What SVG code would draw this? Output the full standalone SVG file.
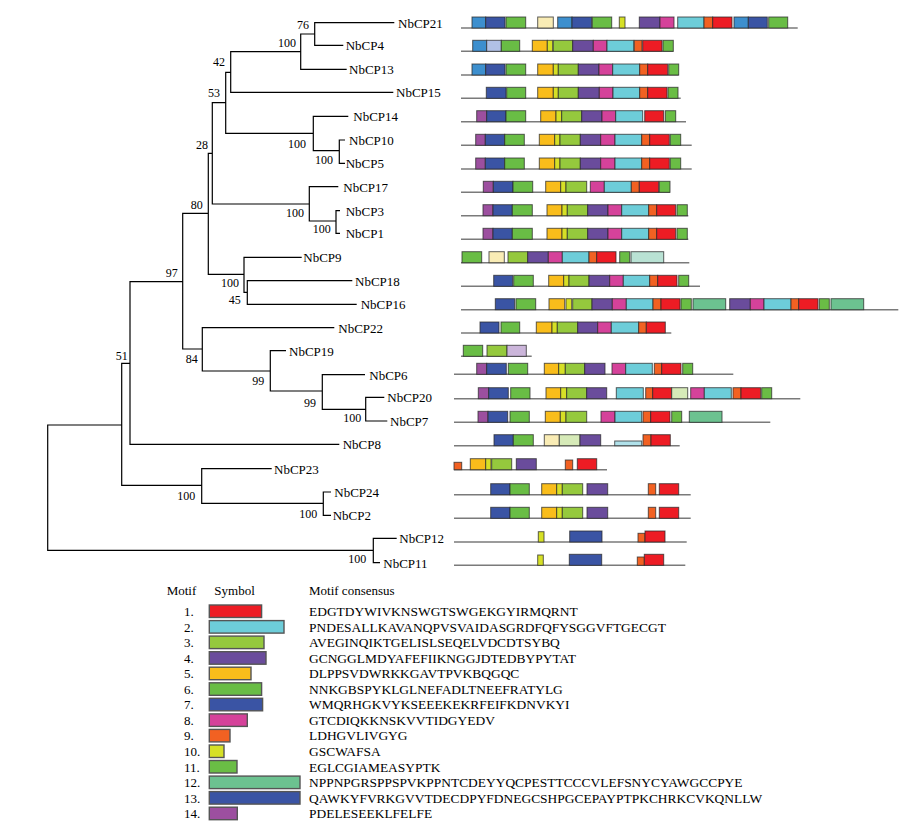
<svg xmlns="http://www.w3.org/2000/svg" width="910" height="836" viewBox="0 0 910 836">
<style>
text{font-family:"Liberation Serif","Times New Roman",serif;fill:#000}
.lab{font-size:13px}
.bs{font-size:12px}
.lg{font-size:13px}
.seq{font-size:13.45px}
.tree path{fill:none;stroke:#000;stroke-width:1.2}
.bb{stroke:#7a7a7a;stroke-width:1.6}
.r rect{stroke:rgba(40,40,40,0.75);stroke-width:1}
.sym rect{stroke:#555;stroke-width:1.4}
.m1{fill:#ed1c24}.m2{fill:#6dcdd9}.m3{fill:#95c93d}.m4{fill:#6a4c9c}.m5{fill:#f9bd1b}
.m6{fill:#69bd45}.m7{fill:#3a54a4}.m8{fill:#d5429a}.m9{fill:#f26122}.m10{fill:#d6e026}
.m11{fill:#6abd45}.m12{fill:#6cc290}.m13{fill:#3a54a4}.m14{fill:#9c4f9f}
.lb{fill:#3d8fce}.py{fill:#f9ecb5}.ls{fill:#b1c1e5}.pm{fill:#b9e2d4}.pg{fill:#d6eab8}.lv{fill:#cbb5da}.pc{fill:#b0e1ea}
</style>

<g id="connectors" class="tree">
<path d="M394.3,22.7H314.7V45.3H343.3 M314.7,34H300.7V69.3H346.7 M300.7,51.7H230.7V92.3H393.3 M230.7,72.3H225.7V133.3H313.3 M348.3,116.3H313.3V150.7H339.3 M345,140H339.3V163.3H345 M225.7,102.7H212.3V204H309.3 M338.3,186.7H309.3V221H336 M340,210.7H336V233.3H340 M212.3,153.3H208.3V274.3H244 M301.7,257.3H244V292.3H247.3 M352.3,280.7H247.3V304.3H356.7 M208.3,213.3H182.7V349H202.3 M334.3,327.7H202.3V371H270.3 M286,350.7H270.3V391H322.3 M365,374.7H322.3V409.3H365.7 M384.3,397.3H365.7V421H387.3 M182.7,281.7H130V444.3H339.3 M130,363.3H121.7V485.3H201.7 M271.7,468.7H201.7V503.3H323.3 M331,492H323.3V515.3H331 M121.7,425H47.7V550.3H373.3 M396.7,538.3H373.3V562.7H380"/>
</g>

<g id="bootstrap" class="bs">
<text x="297" y="29">76</text>
<text x="278" y="46.7">100</text>
<text x="213" y="65.7">42</text>
<text x="208" y="97.3">53</text>
<text x="288" y="148">100</text>
<text x="315" y="164">100</text>
<text x="196" y="149">28</text>
<text x="286" y="216.7">100</text>
<text x="312.7" y="233.3">100</text>
<text x="190.7" y="209">80</text>
<text x="221" y="287.3">100</text>
<text x="228.7" y="304">45</text>
<text x="165.7" y="276.7">97</text>
<text x="185.7" y="363.3">84</text>
<text x="252.3" y="385">99</text>
<text x="304" y="406.7">99</text>
<text x="343.3" y="421.7">100</text>
<text x="115.7" y="360">51</text>
<text x="177.3" y="500">100</text>
<text x="299.3" y="518.3">100</text>
<text x="348.3" y="563.3">100</text>
</g>

<g id="NbCP21"><text class="lab" x="398" y="27.5">NbCP21</text>
<g class="r" transform="translate(0,17)"><line class="bb" x1="461" y1="11" x2="797.7" y2="11"/>
<rect class="lb" x="472" y="0" width="13.7" height="11"/><rect class="m7" x="485.7" y="0" width="19.3" height="11"/><rect class="m6" x="506" y="0" width="19.7" height="11"/><rect class="py" x="537.7" y="0" width="15.6" height="11"/><rect class="lb" x="557.7" y="0" width="14.3" height="11"/><rect class="m7" x="572" y="0" width="19.7" height="11"/><rect class="m6" x="592.3" y="0" width="19.4" height="11"/><rect class="m10" x="619.3" y="0" width="5.7" height="11"/><rect class="m4" x="639.3" y="0" width="20.7" height="11"/><rect class="m8" x="660" y="0" width="14" height="11"/><rect class="m2" x="677.7" y="0" width="26.3" height="11"/><rect class="m9" x="704" y="0" width="8.7" height="11"/><rect class="m1" x="712.7" y="0" width="19.3" height="11"/><rect class="lb" x="734" y="0" width="14.3" height="11"/><rect class="m7" x="748.3" y="0" width="19" height="11"/><rect class="m6" x="768.7" y="0" width="19" height="11"/></g></g>

<g id="NbCP4"><text class="lab" x="345.7" y="50">NbCP4</text>
<g class="r" transform="translate(0,40.3)"><line class="bb" x1="461" y1="11" x2="673.3" y2="11"/>
<rect class="lb" x="472.7" y="0" width="14" height="11"/><rect class="ls" x="486.7" y="0" width="14.6" height="11"/><rect class="m6" x="501.3" y="0" width="18.4" height="11"/><rect class="m5" x="532.3" y="0" width="15" height="11"/><rect class="m10" x="547.3" y="0" width="5.4" height="11"/><rect class="m3" x="553.3" y="0" width="19.4" height="11"/><rect class="m4" x="572.7" y="0" width="20.6" height="11"/><rect class="m8" x="593.3" y="0" width="13.7" height="11"/><rect class="m2" x="607" y="0" width="26.7" height="11"/><rect class="m9" x="634.3" y="0" width="7.7" height="11"/><rect class="m1" x="642.7" y="0" width="19.3" height="11"/><rect class="m11" x="663" y="0" width="10.3" height="11"/></g></g>

<g id="NbCP13"><text class="lab" x="349" y="74">NbCP13</text>
<g class="r" transform="translate(0,64)"><line class="bb" x1="461" y1="11" x2="678.7" y2="11"/>
<rect class="lb" x="472" y="0" width="13.7" height="11"/><rect class="m7" x="485.7" y="0" width="19.3" height="11"/><rect class="m6" x="506" y="0" width="19.7" height="11"/><rect class="m5" x="537.7" y="0" width="15.6" height="11"/><rect class="m10" x="553.3" y="0" width="5" height="11"/><rect class="m3" x="558.3" y="0" width="20" height="11"/><rect class="m4" x="578.3" y="0" width="20.7" height="11"/><rect class="m8" x="599" y="0" width="13.7" height="11"/><rect class="m2" x="612.7" y="0" width="27" height="11"/><rect class="m9" x="639.7" y="0" width="8" height="11"/><rect class="m1" x="647.7" y="0" width="20" height="11"/><rect class="m11" x="668.7" y="0" width="10" height="11"/></g></g>

<g id="NbCP15"><text class="lab" x="396" y="97">NbCP15</text>
<g class="r" transform="translate(0,87.3)"><line class="bb" x1="461" y1="11" x2="680.7" y2="11"/>
<rect class="m7" x="486.3" y="0" width="19.7" height="11"/><rect class="m6" x="506.7" y="0" width="19" height="11"/><rect class="m5" x="537.7" y="0" width="15.6" height="11"/><rect class="m10" x="553.3" y="0" width="5" height="11"/><rect class="m3" x="558.3" y="0" width="20" height="11"/><rect class="m4" x="578.3" y="0" width="21" height="11"/><rect class="m8" x="599.3" y="0" width="13.7" height="11"/><rect class="m2" x="613" y="0" width="26.7" height="11"/><rect class="m9" x="639.7" y="0" width="8" height="11"/><rect class="m1" x="647.7" y="0" width="19.3" height="11"/><rect class="m11" x="668" y="0" width="10" height="11"/></g></g>

<g id="NbCP14"><text class="lab" x="353.3" y="121">NbCP14</text>
<g class="r" transform="translate(0,110.7)"><line class="bb" x1="461" y1="11" x2="686" y2="11"/>
<rect class="m14" x="476.7" y="0" width="10" height="11"/><rect class="m7" x="486.7" y="0" width="19.3" height="11"/><rect class="m6" x="506" y="0" width="19.7" height="11"/><rect class="m5" x="540.7" y="0" width="15.3" height="11"/><rect class="m10" x="556" y="0" width="5.7" height="11"/><rect class="m3" x="561.7" y="0" width="20" height="11"/><rect class="m4" x="581.7" y="0" width="20.3" height="11"/><rect class="m8" x="602" y="0" width="13.7" height="11"/><rect class="m2" x="615.7" y="0" width="27" height="11"/><rect class="m1" x="644.7" y="0" width="19" height="11"/><rect class="m11" x="665.3" y="0" width="10.4" height="11"/></g></g>

<g id="NbCP10"><text class="lab" x="349" y="145">NbCP10</text>
<g class="r" transform="translate(0,134.3)"><line class="bb" x1="461" y1="11" x2="691.7" y2="11"/>
<rect class="m14" x="475.7" y="0" width="9.6" height="11"/><rect class="m7" x="485.3" y="0" width="19.4" height="11"/><rect class="m6" x="504.7" y="0" width="19.6" height="11"/><rect class="m5" x="539.3" y="0" width="15.4" height="11"/><rect class="m10" x="554.7" y="0" width="5.3" height="11"/><rect class="m3" x="560" y="0" width="20.3" height="11"/><rect class="m4" x="580.3" y="0" width="20.4" height="11"/><rect class="m8" x="600.7" y="0" width="14.3" height="11"/><rect class="m2" x="615" y="0" width="26.7" height="11"/><rect class="m9" x="641.7" y="0" width="8" height="11"/><rect class="m1" x="649.7" y="0" width="19.6" height="11"/><rect class="m11" x="670.3" y="0" width="10.4" height="11"/></g></g>

<g id="NbCP5"><text class="lab" x="345.7" y="168">NbCP5</text>
<g class="r" transform="translate(0,158)"><line class="bb" x1="461" y1="11" x2="691.7" y2="11"/>
<rect class="m14" x="475.7" y="0" width="9.6" height="11"/><rect class="m7" x="485.3" y="0" width="19.4" height="11"/><rect class="m6" x="504.7" y="0" width="19.6" height="11"/><rect class="m5" x="539.3" y="0" width="15.4" height="11"/><rect class="m10" x="554.7" y="0" width="5.3" height="11"/><rect class="m3" x="560" y="0" width="20.3" height="11"/><rect class="m4" x="580.3" y="0" width="20.4" height="11"/><rect class="m8" x="600.7" y="0" width="14.3" height="11"/><rect class="m2" x="615" y="0" width="26.7" height="11"/><rect class="m9" x="641.7" y="0" width="8" height="11"/><rect class="m1" x="649.7" y="0" width="19.6" height="11"/><rect class="m11" x="670.3" y="0" width="10.4" height="11"/></g></g>

<g id="NbCP17"><text class="lab" x="343.3" y="191.5">NbCP17</text>
<g class="r" transform="translate(0,181.3)"><line class="bb" x1="461" y1="11" x2="670" y2="11"/>
<rect class="m14" x="483.3" y="0" width="10" height="11"/><rect class="m7" x="493.3" y="0" width="19.7" height="11"/><rect class="m6" x="513" y="0" width="19.7" height="11"/><rect class="m5" x="545.7" y="0" width="15" height="11"/><rect class="m10" x="560.7" y="0" width="5.3" height="11"/><rect class="m3" x="566" y="0" width="20.7" height="11"/><rect class="m8" x="590.3" y="0" width="14" height="11"/><rect class="m2" x="604.3" y="0" width="27" height="11"/><rect class="m9" x="631.3" y="0" width="8" height="11"/><rect class="m1" x="639.3" y="0" width="19.4" height="11"/><rect class="m11" x="659.3" y="0" width="10.7" height="11"/></g></g>

<g id="NbCP3"><text class="lab" x="345.7" y="215.5">NbCP3</text>
<g class="r" transform="translate(0,204.7)"><line class="bb" x1="461" y1="11" x2="688.3" y2="11"/>
<rect class="m14" x="483" y="0" width="10" height="11"/><rect class="m7" x="493" y="0" width="19.3" height="11"/><rect class="m6" x="512.3" y="0" width="20" height="11"/><rect class="m5" x="547" y="0" width="15" height="11"/><rect class="m10" x="562" y="0" width="5.3" height="11"/><rect class="m3" x="567.3" y="0" width="20.4" height="11"/><rect class="m4" x="587.7" y="0" width="20.3" height="11"/><rect class="m8" x="608" y="0" width="13.7" height="11"/><rect class="m2" x="621.7" y="0" width="27" height="11"/><rect class="m9" x="648.7" y="0" width="8" height="11"/><rect class="m1" x="656.7" y="0" width="19" height="11"/><rect class="m11" x="677" y="0" width="10.3" height="11"/></g></g>

<g id="NbCP1"><text class="lab" x="345.7" y="238">NbCP1</text>
<g class="r" transform="translate(0,228.3)"><line class="bb" x1="461" y1="11" x2="688.3" y2="11"/>
<rect class="m14" x="483" y="0" width="10" height="11"/><rect class="m7" x="493" y="0" width="19.3" height="11"/><rect class="m6" x="512.3" y="0" width="20" height="11"/><rect class="m5" x="547" y="0" width="15" height="11"/><rect class="m10" x="562" y="0" width="5.3" height="11"/><rect class="m3" x="567.3" y="0" width="20.4" height="11"/><rect class="m4" x="587.7" y="0" width="20.3" height="11"/><rect class="m8" x="608" y="0" width="13.7" height="11"/><rect class="m2" x="621.7" y="0" width="27" height="11"/><rect class="m9" x="648.7" y="0" width="8" height="11"/><rect class="m1" x="656.7" y="0" width="19" height="11"/><rect class="m11" x="677" y="0" width="10.3" height="11"/></g></g>

<g id="NbCP9"><text class="lab" x="303.3" y="262">NbCP9</text>
<g class="r" transform="translate(0,251.7)"><line class="bb" x1="461" y1="11" x2="689.3" y2="11"/>
<rect class="m6" x="462" y="0" width="19.7" height="11"/><rect class="py" x="489" y="0" width="15.3" height="11"/><rect class="m3" x="508" y="0" width="19.7" height="11"/><rect class="m4" x="527.7" y="0" width="20.6" height="11"/><rect class="m8" x="548.3" y="0" width="14" height="11"/><rect class="m2" x="562.3" y="0" width="26.7" height="11"/><rect class="m9" x="589" y="0" width="7.7" height="11"/><rect class="m1" x="596.7" y="0" width="19.3" height="11"/><rect class="m11" x="619.7" y="0" width="10" height="11"/><rect class="pm" x="631" y="0" width="32.7" height="11"/></g></g>

<g id="NbCP18"><text class="lab" x="355" y="285.5">NbCP18</text>
<g class="r" transform="translate(0,275.3)"><line class="bb" x1="461" y1="11" x2="700" y2="11"/>
<rect class="m7" x="493.7" y="0" width="19" height="11"/><rect class="m6" x="513.7" y="0" width="19.6" height="11"/><rect class="m5" x="548.7" y="0" width="15" height="11"/><rect class="m10" x="563.7" y="0" width="5.3" height="11"/><rect class="m3" x="569" y="0" width="20" height="11"/><rect class="m4" x="589" y="0" width="20.7" height="11"/><rect class="m8" x="609.7" y="0" width="13.6" height="11"/><rect class="m2" x="623.3" y="0" width="26.4" height="11"/><rect class="m9" x="649.7" y="0" width="8" height="11"/><rect class="m1" x="657.7" y="0" width="19.3" height="11"/><rect class="m11" x="678.7" y="0" width="10" height="11"/></g></g>

<g id="NbCP16"><text class="lab" x="360.7" y="309">NbCP16</text>
<g class="r" transform="translate(0,298.7)"><line class="bb" x1="461" y1="11" x2="898.3" y2="11"/>
<rect class="m7" x="495.3" y="0" width="19.4" height="11"/><rect class="m6" x="516" y="0" width="19.7" height="11"/><rect class="m5" x="549" y="0" width="15.7" height="11"/><rect class="m10" x="566" y="0" width="5.7" height="11"/><rect class="m3" x="572.7" y="0" width="19.3" height="11"/><rect class="m4" x="592" y="0" width="20.3" height="11"/><rect class="m8" x="612.3" y="0" width="14" height="11"/><rect class="m2" x="626.3" y="0" width="26.7" height="11"/><rect class="m9" x="653" y="0" width="8" height="11"/><rect class="m1" x="661" y="0" width="19" height="11"/><rect class="m11" x="681" y="0" width="10.3" height="11"/><rect class="m12" x="693" y="0" width="32.7" height="11"/><rect class="m4" x="729.7" y="0" width="20.6" height="11"/><rect class="m8" x="750.3" y="0" width="13.7" height="11"/><rect class="m2" x="764" y="0" width="27" height="11"/><rect class="m9" x="791" y="0" width="7.7" height="11"/><rect class="m1" x="798.7" y="0" width="19.3" height="11"/><rect class="m11" x="819.3" y="0" width="10" height="11"/><rect class="m12" x="831" y="0" width="32.7" height="11"/></g></g>

<g id="NbCP22"><text class="lab" x="338.3" y="332.5">NbCP22</text>
<g class="r" transform="translate(0,322)"><line class="bb" x1="461" y1="11" x2="671.3" y2="11"/>
<rect class="m7" x="480" y="0" width="19" height="11"/><rect class="m6" x="501" y="0" width="18.7" height="11"/><rect class="m5" x="536.3" y="0" width="15.7" height="11"/><rect class="m10" x="552" y="0" width="5.3" height="11"/><rect class="m3" x="557.3" y="0" width="20.4" height="11"/><rect class="m4" x="577.7" y="0" width="20" height="11"/><rect class="m8" x="597.7" y="0" width="13.6" height="11"/><rect class="m2" x="611.3" y="0" width="27.4" height="11"/><rect class="m9" x="638.7" y="0" width="7.6" height="11"/><rect class="m1" x="646.3" y="0" width="19" height="11"/></g></g>

<g id="NbCP19"><text class="lab" x="289" y="355.5">NbCP19</text>
<g class="r" transform="translate(0,345.3)"><line class="bb" x1="461" y1="11" x2="531.7" y2="11"/>
<rect class="m6" x="463.3" y="0" width="19.4" height="11"/><rect class="m3" x="487" y="0" width="20" height="11"/><rect class="lv" x="507" y="0" width="19.3" height="11"/></g></g>

<g id="NbCP6"><text class="lab" x="369.3" y="379.5">NbCP6</text>
<g class="r" transform="translate(0,363.3)"><line class="bb" x1="454" y1="11" x2="733.3" y2="11"/>
<rect class="m14" x="476.7" y="0" width="10" height="11"/><rect class="m7" x="486.7" y="0" width="19.6" height="11"/><rect class="m6" x="508.3" y="0" width="19.4" height="11"/><rect class="m5" x="544.3" y="0" width="14.4" height="11"/><rect class="m10" x="558.7" y="0" width="6.6" height="11"/><rect class="m3" x="565.3" y="0" width="19.4" height="11"/><rect class="m4" x="584.7" y="0" width="20.3" height="11"/><rect class="m8" x="612" y="0" width="13.7" height="11"/><rect class="m2" x="625.7" y="0" width="26.6" height="11"/><rect class="m9" x="654.3" y="0" width="7.4" height="11"/><rect class="m1" x="661.7" y="0" width="19.3" height="11"/><rect class="m11" x="682.7" y="0" width="10" height="11"/></g></g>

<g id="NbCP20"><text class="lab" x="387.3" y="402">NbCP20</text>
<g class="r" transform="translate(0,387.7)"><line class="bb" x1="454" y1="11" x2="800.3" y2="11"/>
<rect class="m14" x="478.3" y="0" width="10.4" height="11"/><rect class="m7" x="488.7" y="0" width="19.6" height="11"/><rect class="m6" x="510.7" y="0" width="19.3" height="11"/><rect class="m5" x="546" y="0" width="14.7" height="11"/><rect class="m10" x="560.7" y="0" width="6" height="11"/><rect class="m3" x="566.7" y="0" width="20" height="11"/><rect class="m4" x="586.7" y="0" width="20" height="11"/><rect class="m2" x="616.3" y="0" width="27" height="11"/><rect class="m9" x="645.7" y="0" width="7" height="11"/><rect class="m1" x="652.7" y="0" width="19" height="11"/><rect class="pg" x="671.7" y="0" width="16" height="11"/><rect class="m8" x="690.7" y="0" width="13.6" height="11"/><rect class="m2" x="704.3" y="0" width="27" height="11"/><rect class="m9" x="733" y="0" width="8" height="11"/><rect class="m1" x="741" y="0" width="19.7" height="11"/><rect class="m11" x="761.7" y="0" width="10" height="11"/></g></g>

<g id="NbCP7"><text class="lab" x="390" y="426">NbCP7</text>
<g class="r" transform="translate(0,411.3)"><line class="bb" x1="454" y1="11" x2="770.3" y2="11"/>
<rect class="m14" x="478" y="0" width="10" height="11"/><rect class="m7" x="488" y="0" width="19.7" height="11"/><rect class="m6" x="510" y="0" width="19.3" height="11"/><rect class="m5" x="545.3" y="0" width="15" height="11"/><rect class="m10" x="560.3" y="0" width="5.7" height="11"/><rect class="m3" x="566" y="0" width="20.7" height="11"/><rect class="m8" x="601" y="0" width="14" height="11"/><rect class="m2" x="615" y="0" width="26.7" height="11"/><rect class="m9" x="643" y="0" width="7.7" height="11"/><rect class="m1" x="650.7" y="0" width="19.3" height="11"/><rect class="m11" x="671.7" y="0" width="10" height="11"/><rect class="m12" x="689.3" y="0" width="32.7" height="11"/></g></g>

<g id="NbCP8"><text class="lab" x="342.7" y="449">NbCP8</text>
<g class="r" transform="translate(0,434.7)"><line class="bb" x1="454" y1="11" x2="679.7" y2="11"/>
<rect class="m7" x="494" y="0" width="19.3" height="11"/><rect class="m6" x="513.3" y="0" width="20" height="11"/><rect class="py" x="544.3" y="0" width="15" height="11"/><rect class="pg" x="559.3" y="0" width="20.7" height="11"/><rect class="m4" x="580" y="0" width="20.7" height="11"/><rect class="pc" x="614.7" y="6.3" width="27" height="4.7"/><rect class="m9" x="643" y="0" width="8" height="11"/><rect class="m1" x="651" y="0" width="19.3" height="11"/></g></g>

<g id="NbCP23"><text class="lab" x="274" y="473.5">NbCP23</text>
<g class="r" transform="translate(0,458.7)"><line class="bb" x1="454" y1="11" x2="607" y2="11"/>
<rect class="m9" x="454" y="3.6" width="7.7" height="7.4"/><rect class="m5" x="470.3" y="0" width="15.4" height="11"/><rect class="m10" x="485.7" y="0" width="5.3" height="11"/><rect class="m3" x="491.7" y="0" width="20" height="11"/><rect class="m4" x="516.3" y="0" width="20" height="11"/><rect class="m9" x="565.3" y="1.3" width="7.4" height="9.7"/><rect class="m1" x="577.3" y="0" width="19.4" height="11"/></g></g>

<g id="NbCP24"><text class="lab" x="334.3" y="497">NbCP24</text>
<g class="r" transform="translate(0,483.7)"><line class="bb" x1="454" y1="11" x2="690.7" y2="11"/>
<rect class="m7" x="490.7" y="0" width="19.3" height="11"/><rect class="m6" x="510" y="0" width="19.3" height="11"/><rect class="m5" x="541.7" y="0" width="15" height="11"/><rect class="m10" x="556.7" y="0" width="5.6" height="11"/><rect class="m3" x="562.3" y="0" width="20.4" height="11"/><rect class="m4" x="587" y="0" width="20.7" height="11"/><rect class="m9" x="648.3" y="0" width="7.4" height="11"/><rect class="m1" x="659.3" y="0" width="19.4" height="11"/></g></g>

<g id="NbCP2"><text class="lab" x="332.7" y="520">NbCP2</text>
<g class="r" transform="translate(0,507.3)"><line class="bb" x1="454" y1="11" x2="690.7" y2="11"/>
<rect class="m7" x="490.7" y="0" width="19.3" height="11"/><rect class="m6" x="510" y="0" width="19.3" height="11"/><rect class="m5" x="541.7" y="0" width="15" height="11"/><rect class="m10" x="556.7" y="0" width="5.6" height="11"/><rect class="m3" x="562.3" y="0" width="20.4" height="11"/><rect class="m4" x="587" y="0" width="20.7" height="11"/><rect class="m9" x="648.3" y="0" width="7.4" height="11"/><rect class="m1" x="659.3" y="0" width="19.4" height="11"/></g></g>

<g id="NbCP12"><text class="lab" x="399.3" y="543">NbCP12</text>
<g class="r" transform="translate(0,531)"><line class="bb" x1="454" y1="11" x2="686.7" y2="11"/>
<rect class="m10" x="538.3" y="0.7" width="5.7" height="10.3"/><rect class="m13" x="569.7" y="0" width="32.3" height="11"/><rect class="m9" x="638" y="2.3" width="7" height="8.7"/><rect class="m1" x="645" y="0" width="20" height="11"/></g></g>

<g id="NbCP11"><text class="lab" x="383.3" y="567.5">NbCP11</text>
<g class="r" transform="translate(0,554.3)"><line class="bb" x1="454" y1="11" x2="685.3" y2="11"/>
<rect class="m10" x="537.7" y="0.7" width="5.6" height="10.3"/><rect class="m13" x="569.3" y="0" width="32.4" height="11"/><rect class="m9" x="637.3" y="2.7" width="7" height="8.3"/><rect class="m1" x="644.3" y="0" width="19.4" height="11"/></g></g>

<g id="legend" class="lg">
<text x="166.7" y="595">Motif</text>
<text x="214.3" y="595">Symbol</text>
<text x="309" y="595">Motif consensus</text>
<g class="sym">
<rect class="m1" x="209.3" y="605" width="52.3" height="12.5"/>
<rect class="m2" x="209.3" y="620.6" width="74.7" height="12.5"/>
<rect class="m3" x="209.3" y="636.1" width="54.7" height="12.5"/>
<rect class="m4" x="209.3" y="651.7" width="56.7" height="12.5"/>
<rect class="m5" x="209.3" y="667.2" width="41.7" height="12.5"/>
<rect class="m6" x="209.3" y="682.8" width="52.3" height="12.5"/>
<rect class="m7" x="209.3" y="698.3" width="53.3" height="12.5"/>
<rect class="m8" x="209.3" y="713.9" width="38" height="12.5"/>
<rect class="m9" x="209.3" y="729.4" width="20.7" height="12.5"/>
<rect class="m10" x="209.3" y="745" width="14.7" height="12.5"/>
<rect class="m11" x="209.3" y="760.5" width="27.7" height="12.5"/>
<rect class="m12" x="209.3" y="776.1" width="90.7" height="12.5"/>
<rect class="m13" x="209.3" y="791.6" width="90.7" height="12.5"/>
<rect class="m14" x="209.3" y="807.2" width="28" height="12.5"/>
</g>
<text x="184" y="616">1.</text><text class="seq" x="309" y="616">EDGTDYWIVKNSWGTSWGEKGYIRMQRNT</text>
<text x="184" y="631.6">2.</text><text class="seq" x="309" y="631.6">PNDESALLKAVANQPVSVAIDASGRDFQFYSGGVFTGECGT</text>
<text x="184" y="647.1">3.</text><text class="seq" x="309" y="647.1">AVEGINQIKTGELISLSEQELVDCDTSYBQ</text>
<text x="184" y="662.7">4.</text><text class="seq" x="309" y="662.7">GCNGGLMDYAFEFIIKNGGJDTEDBYPYTAT</text>
<text x="184" y="678.2">5.</text><text class="seq" x="309" y="678.2">DLPPSVDWRKKGAVTPVKBQGQC</text>
<text x="184" y="693.8">6.</text><text class="seq" x="309" y="693.8">NNKGBSPYKLGLNEFADLTNEEFRATYLG</text>
<text x="184" y="709.3">7.</text><text class="seq" x="309" y="709.3">WMQRHGKVYKSEEEKEKRFEIFKDNVKYI</text>
<text x="184" y="724.9">8.</text><text class="seq" x="309" y="724.9">GTCDIQKKNSKVVTIDGYEDV</text>
<text x="184" y="740.4">9.</text><text class="seq" x="309" y="740.4">LDHGVLIVGYG</text>
<text x="184" y="756">10.</text><text class="seq" x="309" y="756">GSCWAFSA</text>
<text x="184" y="771.5">11.</text><text class="seq" x="309" y="771.5">EGLCGIAMEASYPTK</text>
<text x="184" y="787.1">12.</text><text class="seq" x="309" y="787.1">NPPNPGRSPPSPVKPPNTCDEYYQCPESTTCCCVLEFSNYCYAWGCCPYE</text>
<text x="184" y="802.6">13.</text><text class="seq" x="309" y="802.6">QAWKYFVRKGVVTDECDPYFDNEGCSHPGCEPAYPTPKCHRKCVKQNLLW</text>
<text x="184" y="818.2">14.</text><text class="seq" x="309" y="818.2">PDELESEEKLFELFE</text>
</g>
</svg>
